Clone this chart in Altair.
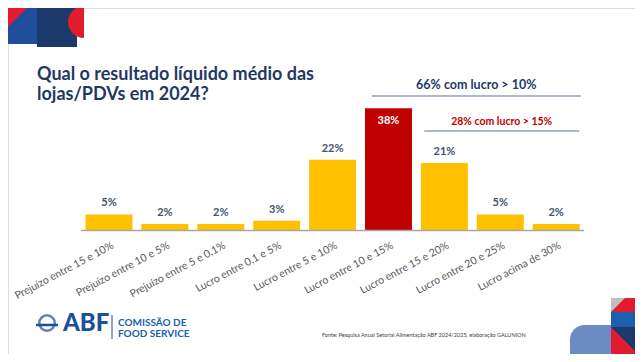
import altair as alt
import pandas as pd

# ---- data ----
categories = [
    "Prejuízo entre 15 e 10%", "Prejuízo entre 10 e 5%", "Prejuízo entre 5 e 0,1%",
    "Lucro entre 0,1 e 5%", "Lucro entre 5 e 10%", "Lucro entre 10 e 15%",
    "Lucro entre 15 e 20%", "Lucro entre 20 e 25%", "Lucro acima de 30%",
]
values = [5, 2, 2, 3, 22, 38, 21, 5, 2]
highlight = "Lucro entre 10 e 15%"

title_lines = "Qual o resultado líquido médio das\nlojas/PDVs em 2024?"
ann_texts = ["66% com lucro > 10%", "28% com lucro > 15%"]
ann_from = [4.70, 5.64]
ann_to = [8.44, 8.41]
ann_level = [41.8, 30.9]
ann_colors = ["#1F3864", "#C00000"]
ann_sizes = [12.5, 10.5]
source_text = "Fonte: Pesquisa Anual Setorial Alimentação ABF 2024/2025, elaboração GALUNION"

FONT = "Lato"
W, H = 627, 346

df = pd.DataFrame({
    "cat": categories,
    "idx": list(range(len(categories))),
    "value": values,
})
df["lo"] = df["idx"] - 0.42
df["hi"] = df["idx"] + 0.42
df["zero"] = 0
df["label"] = [f"{v}%" for v in values]
df["hl"] = df["cat"] == highlight

xs = alt.Scale(domain=[-1.807, 9.410], nice=False, zero=False)
ys = alt.Scale(domain=[-38.35, 69.1], nice=False, zero=False)

base = alt.Chart(df)

bars = base.mark_rect().encode(
    x=alt.X("lo:Q", scale=xs, axis=None),
    x2="hi:Q",
    y=alt.Y("zero:Q", scale=ys, axis=None),
    y2="value:Q",
    color=alt.condition("datum.hl", alt.value("#C00000"), alt.value("#FFC000")),
)

axis_line = alt.Chart(pd.DataFrame({"a": [-0.5], "b": [8.5], "z": [0]})).mark_rule(
    color="#A6A6A6", strokeWidth=1.5
).encode(x="a:Q", x2="b:Q", y="z:Q")

val_out = base.transform_filter("!datum.hl").mark_text(
    font=FONT, fontSize=11, fontWeight="bold", color="#44546A", baseline="bottom", dy=-6
).encode(x="idx:Q", y="value:Q", text="label:N")

val_in = base.transform_filter("datum.hl").mark_text(
    font=FONT, fontSize=11, fontWeight="bold", color="white", baseline="top", dy=7
).encode(x="idx:Q", y="value:Q", text="label:N")

cat_labels = base.mark_text(
    font=FONT, fontSize=10.5, color="#595959", align="right", baseline="middle", angle=332
).encode(x="idx:Q", y=alt.value(237), text="cat:N", xOffset=alt.value(4))

ann = pd.DataFrame({
    "t": ann_texts, "a": ann_from, "b": ann_to, "lev": ann_level, "c": ann_colors, "size": ann_sizes,
})
ann["mid"] = (ann["a"] + ann["b"]) / 2

ann_rules = alt.Chart(ann).mark_rule(color="#ADB9CA", strokeWidth=2).encode(
    x="a:Q", x2="b:Q", y="lev:Q"
)
ann_text = alt.Chart(ann).mark_text(
    font=FONT, fontWeight="bold", baseline="bottom", dy=-4
).encode(
    x="mid:Q", y="lev:Q", text="t:N",
    color=alt.Color("c:N", scale=None),
    size=alt.Size("size:Q", scale=None),
)

one = alt.Chart(pd.DataFrame({"k": [0]}))

title = one.mark_text(
    font=FONT, fontSize=18, fontWeight="bold", color="#1F3864", align="left",
    baseline="alphabetic", lineBreak="\n", lineHeight=20,
).encode(x=alt.value(29), y=alt.value(72), text=alt.value(title_lines))

source = one.mark_text(font=FONT, fontSize=5.5, color="#404040", align="left", baseline="middle").encode(
    x=alt.value(314), y=alt.value(327), text=alt.value(source_text)
)

BLUE = "#1B4F9C"
logo_ring = one.mark_point(shape="circle", size=240, strokeWidth=2.5, color=BLUE).encode(
    x=alt.value(39), y=alt.value(315))
logo_dash = one.mark_rule(color=BLUE, strokeWidth=2.5).encode(
    x=alt.value(28), x2=alt.value(50), y=alt.value(317))
logo_abf = one.mark_text(font=FONT, fontSize=24, fontWeight=900, color=BLUE, align="left",
                         baseline="middle").encode(
    x=alt.value(55), y=alt.value(316), text=alt.value("ABF"))
logo_bar = one.mark_rule(color=BLUE, strokeWidth=1).encode(
    x=alt.value(104), y=alt.value(307), y2=alt.value(331))
logo_t1 = one.mark_text(font=FONT, fontSize=10, fontWeight="bold", color="#1B5FAE", align="left",
                        baseline="middle").encode(x=alt.value(110), y=alt.value(315), text=alt.value("COMISSÃO DE"))
logo_t2 = one.mark_text(font=FONT, fontSize=10, fontWeight="bold", color="#1B5FAE", align="left",
                        baseline="middle").encode(x=alt.value(110), y=alt.value(326), text=alt.value("FOOD SERVICE"))


def rect(x, x2, y, y2, c, **kw):
    return one.mark_rect(color=c, **kw).encode(
        x=alt.value(x), x2=alt.value(x2), y=alt.value(y), y2=alt.value(y2))


def tri(cx, cy, s, path, c):
    return one.mark_point(shape=path, size=s * s, filled=True, opacity=1, color=c, strokeWidth=0).encode(
        x=alt.value(cx), y=alt.value(cy))


# decorations (top-left)
d1 = rect(0, 29, 0, 36, "#1F4E9A")
d2 = tri(9, 10, 36, "M-1,-1L1,-1L-1,1Z", "#E31B2F")
d3 = rect(29, 69, 0, 39, "#1B3A6B")
d4 = one.mark_arc(color="#E31B2F", radius=16, theta=3.1416, theta2=6.2832).encode(
    x=alt.value(76), y=alt.value(14))
# decorations (bottom-right)
e0 = rect(585, 603, 317, 346, "#BFBFBF")
e1 = rect(562, 603, 317, 346, "#6A8BC4", cornerRadiusTopLeft=40)
e2 = rect(603, 627, 290, 304, "#E31B2F")
e3 = tri(610, 297, 14, "M-1,-1L1,-1L-1,1Z", "#BFBFBF")
e4 = rect(603, 627, 304, 319, "#1B5FAE")
e5 = rect(603, 627, 319, 346, "#1B3A6B")
e6 = tri(617, 333, 28, "M-1,-1L1,1L-1,1Z", "#E31B2F")

final = alt.layer(
    bars, axis_line, val_out, val_in, cat_labels, ann_rules, ann_text,
    title, source, logo_ring, logo_dash, logo_abf, logo_bar, logo_t1, logo_t2,
    d1, d2, d3, d4, e0, e1, e2, e3, e4, e5, e6,
).resolve_scale(color="independent", size="independent").properties(
    width=W, height=H, autosize=alt.AutoSizeParams(type="none"), padding=0,
).configure_view(stroke=None).configure(background="white")

final.save("out.html", embed_options={"renderer": "svg", "actions": False})
